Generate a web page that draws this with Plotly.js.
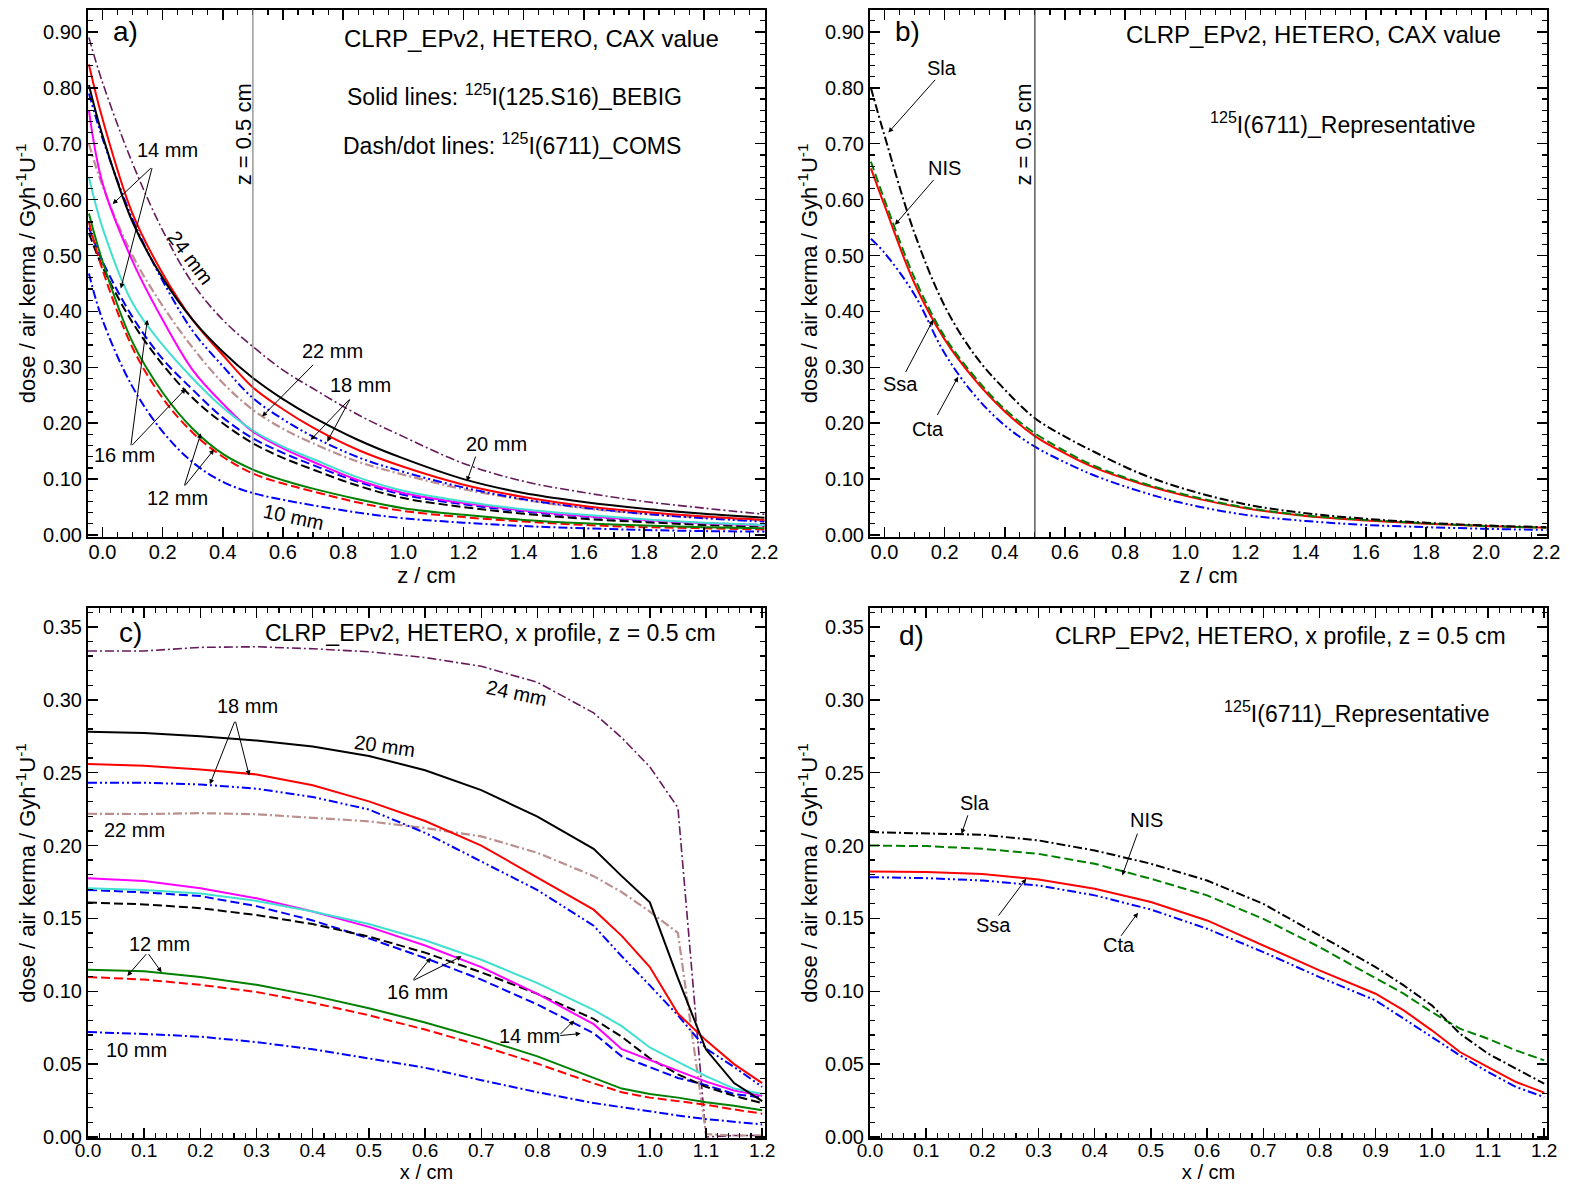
<!DOCTYPE html>
<html><head><meta charset="utf-8">
<script src="https://cdn.plot.ly/plotly-3.0.1.min.js"></script>
<style>html,body{margin:0;padding:0;background:#fff;}#chart{width:1569px;height:1187px;}</style>
</head><body><div id="chart"></div>
<script>
// ---------- panel a/b : CAX depth (z / cm) ----------
const zA = [-0.045, 0, 0.1, 0.2, 0.3, 0.4, 0.5, 0.6, 0.7, 0.85, 1.0, 1.2, 1.4, 1.6, 1.8, 2.0, 2.2];
const aBebig20 = [0.805, 0.715, 0.56, 0.46, 0.385, 0.328, 0.281, 0.243, 0.211, 0.170, 0.137, 0.100, 0.075, 0.059, 0.047, 0.038, 0.031];
const aBebig18 = [0.842, 0.745, 0.575, 0.468, 0.385, 0.322, 0.264, 0.225, 0.192, 0.152, 0.122, 0.090, 0.068, 0.052, 0.041, 0.033, 0.027];
const aBebig16 = [0.64, 0.55, 0.415, 0.34, 0.28, 0.228, 0.187, 0.158, 0.136, 0.103, 0.079, 0.060, 0.046, 0.036, 0.028, 0.022, 0.018];
const aBebig14 = [0.76, 0.63, 0.49, 0.385, 0.295, 0.235, 0.185, 0.155, 0.131, 0.098, 0.075, 0.057, 0.044, 0.034, 0.027, 0.021, 0.017];
const aBebig12 = [0.575, 0.49, 0.345, 0.255, 0.19, 0.145, 0.117, 0.098, 0.083, 0.064, 0.048, 0.036, 0.027, 0.021, 0.017, 0.014, 0.012];
const aComs24 = [0.89, 0.81, 0.665, 0.545, 0.45, 0.385, 0.337, 0.295, 0.262, 0.215, 0.176, 0.128, 0.096, 0.076, 0.060, 0.048, 0.037];
const aComs22 = [0.70, 0.625, 0.50, 0.41, 0.335, 0.272, 0.224, 0.19, 0.164, 0.131, 0.108, 0.082, 0.063, 0.048, 0.038, 0.031, 0.026];
const aComs18 = [0.79, 0.71, 0.565, 0.455, 0.365, 0.302, 0.245, 0.207, 0.176, 0.139, 0.113, 0.085, 0.064, 0.049, 0.038, 0.030, 0.024];
const aComs16 = [0.55, 0.49, 0.39, 0.315, 0.26, 0.21, 0.173, 0.147, 0.125, 0.095, 0.072, 0.055, 0.042, 0.033, 0.026, 0.021, 0.018];
const aComs14 = [0.54, 0.48, 0.38, 0.305, 0.245, 0.20, 0.164, 0.138, 0.117, 0.088, 0.066, 0.050, 0.038, 0.029, 0.023, 0.018, 0.015];
const aComs12 = [0.56, 0.475, 0.335, 0.245, 0.183, 0.14, 0.110, 0.092, 0.078, 0.058, 0.043, 0.032, 0.024, 0.018, 0.014, 0.012, 0.010];
const aComs10 = [0.468, 0.385, 0.265, 0.185, 0.13, 0.095, 0.075, 0.063, 0.053, 0.040, 0.030, 0.022, 0.016, 0.012, 0.009, 0.007, 0.006];

const bSla = [0.80, 0.715, 0.54, 0.41, 0.322, 0.26, 0.209, 0.176, 0.148, 0.110, 0.082, 0.055, 0.039, 0.029, 0.022, 0.017, 0.014];
const bNis = [0.668, 0.60, 0.46, 0.355, 0.283, 0.225, 0.182, 0.150, 0.123, 0.094, 0.072, 0.049, 0.035, 0.027, 0.021, 0.016, 0.013];
const bSsa = [0.656, 0.59, 0.45, 0.35, 0.278, 0.221, 0.177, 0.146, 0.120, 0.092, 0.070, 0.048, 0.034, 0.026, 0.020, 0.016, 0.013];
const bCta = [0.53, 0.505, 0.43, 0.325, 0.25, 0.196, 0.158, 0.130, 0.106, 0.078, 0.056, 0.036, 0.025, 0.018, 0.014, 0.011, 0.009];

// ---------- panel c/d : x profile at z = 0.5 cm ----------
const xC = [0, 0.1, 0.2, 0.3, 0.4, 0.5, 0.6, 0.7, 0.8, 0.9, 0.95, 1.0, 1.05, 1.1, 1.15, 1.2];
const cComs24 = [0.3335, 0.3335, 0.336, 0.3364, 0.335, 0.333, 0.329, 0.323, 0.312, 0.291, 0.274, 0.254, 0.226, 0.0, 0.001, 0.001];
const cBebig20 = [0.278, 0.2773, 0.275, 0.272, 0.268, 0.2615, 0.2517, 0.238, 0.2198, 0.1977, 0.179, 0.161, 0.109, 0.060, 0.037, 0.0246];
const cBebig18 = [0.256, 0.2547, 0.2522, 0.2488, 0.2414, 0.2303, 0.2168, 0.200, 0.178, 0.156, 0.138, 0.1166, 0.0847, 0.0663, 0.050, 0.037];
const cComs18 = [0.2431, 0.2431, 0.2419, 0.239, 0.2333, 0.2247, 0.2087, 0.189, 0.1694, 0.145, 0.124, 0.104, 0.0835, 0.0607, 0.048, 0.0344];
const cComs22 = [0.2218, 0.2216, 0.2222, 0.2215, 0.219, 0.2166, 0.212, 0.2063, 0.195, 0.179, 0.168, 0.1547, 0.14, 0.002, 0.001, 0.001];
const cBebig14 = [0.1776, 0.1756, 0.1707, 0.1638, 0.1547, 0.1442, 0.1314, 0.1166, 0.0982, 0.0774, 0.0602, 0.0528, 0.0454, 0.038, 0.0319, 0.0282];
const cBebig16 = [0.1707, 0.1695, 0.167, 0.162, 0.1547, 0.1461, 0.135, 0.1216, 0.1056, 0.0872, 0.0761, 0.0614, 0.0516, 0.0417, 0.0332, 0.0295];
const cComs16 = [0.1695, 0.1678, 0.1653, 0.1584, 0.1486, 0.1363, 0.1228, 0.108, 0.0909, 0.0712, 0.0553, 0.0479, 0.0405, 0.0356, 0.0295, 0.027];
const cComs14 = [0.1609, 0.1596, 0.157, 0.1523, 0.1461, 0.1375, 0.1265, 0.113, 0.0982, 0.081, 0.0688, 0.054, 0.043, 0.0344, 0.0282, 0.0233];
const cBebig12 = [0.1147, 0.1137, 0.1098, 0.1044, 0.097, 0.0884, 0.0786, 0.0675, 0.0553, 0.0405, 0.0332, 0.0295, 0.027, 0.0238, 0.0214, 0.0184];
const cComs12 = [0.1098, 0.108, 0.1044, 0.0995, 0.0921, 0.0835, 0.0737, 0.0626, 0.0503, 0.0368, 0.0307, 0.027, 0.0246, 0.0221, 0.0189, 0.016];
const cComs10 = [0.072, 0.0707, 0.0688, 0.0651, 0.0602, 0.054, 0.0475, 0.039, 0.0307, 0.0233, 0.0205, 0.0172, 0.0147, 0.0123, 0.0106, 0.0086];

const dSla = [0.2092, 0.2085, 0.2074, 0.2035, 0.1966, 0.1875, 0.176, 0.160, 0.1383, 0.1166, 0.104, 0.0903, 0.0709, 0.0572, 0.0469, 0.0366];
const dNis = [0.200, 0.1996, 0.1978, 0.1943, 0.1875, 0.1772, 0.1658, 0.1497, 0.1303, 0.1086, 0.0983, 0.0857, 0.0743, 0.0674, 0.0594, 0.0526];
const dSsa = [0.1822, 0.1818, 0.1804, 0.1767, 0.1703, 0.1612, 0.1486, 0.1315, 0.1143, 0.0983, 0.0869, 0.0732, 0.0583, 0.048, 0.0377, 0.0304];
const dCta = [0.1783, 0.1776, 0.176, 0.1726, 0.1658, 0.1561, 0.1429, 0.1269, 0.1097, 0.0937, 0.0812, 0.0686, 0.056, 0.0446, 0.0343, 0.0274];

// ---------- styles ----------
const FONT = 'Liberation Sans, Arial, Helvetica, sans-serif';
const C = {purple:'#661a5c', tan:'#bc8f8f', blue:'#0000ff', red:'#ff0000', green:'#008000', magenta:'#ff00ff', cyan:'#40e0d0', black:'#000000'};
const DASH = '9px,4px';
const DASHDOT = '9px,3px,2px,3px';
const DASHDOTDOT = '9px,3px,2px,3px,2px,3px';

function tr(x, y, color, dash, xa, ya, shape, width) {
  return {x: x, y: y, type: 'scatter', mode: 'lines', xaxis: xa, yaxis: ya, hoverinfo: 'skip',
    line: {color: color, dash: dash, width: width || 2, shape: shape}};
}
const traces = [];
// panel a
[[aComs24, C.purple, DASHDOT, 1.6], [aComs22, C.tan, DASHDOT, 2.2], [aComs18, C.blue, DASHDOTDOT, 2], [aComs16, C.blue, DASH, 2],
 [aComs14, C.black, DASH, 2], [aComs12, C.red, DASH, 2], [aComs10, C.blue, DASHDOT, 2],
 [aBebig12, C.green, 'solid', 2], [aBebig14, C.magenta, 'solid', 2], [aBebig16, C.cyan, 'solid', 2],
 [aBebig18, C.red, 'solid', 2], [aBebig20, C.black, 'solid', 2]].forEach(s => traces.push(tr(zA, s[0], s[1], s[2], 'x', 'y', 'spline', s[3])));
// panel b
[[bCta, C.blue, DASHDOTDOT], [bSsa, C.red, 'solid'], [bNis, C.green, DASH], [bSla, C.black, DASHDOT]]
  .forEach(s => traces.push(tr(zA, s[0], s[1], s[2], 'x2', 'y2', 'spline', 2)));
// panel c
[[cComs24, C.purple, DASHDOT, 1.6], [cComs22, C.tan, DASHDOT, 2.2], [cComs18, C.blue, DASHDOTDOT, 2], [cComs16, C.blue, DASH, 2],
 [cComs14, C.black, DASH, 2], [cComs12, C.red, DASH, 2], [cComs10, C.blue, DASHDOT, 2],
 [cBebig12, C.green, 'solid', 2], [cBebig14, C.magenta, 'solid', 2], [cBebig16, C.cyan, 'solid', 2],
 [cBebig18, C.red, 'solid', 2], [cBebig20, C.black, 'solid', 2]].forEach(s => traces.push(tr(xC, s[0], s[1], s[2], 'x3', 'y3', 'linear', s[3])));
// panel d
[[dCta, C.blue, DASHDOTDOT], [dSsa, C.red, 'solid'], [dNis, C.green, DASH], [dSla, C.black, DASHDOT]]
  .forEach(s => traces.push(tr(xC, s[0], s[1], s[2], 'x4', 'y4', 'linear', 2)));

function baseAxis(range, dtick, minor, fmt, domain, anchor, title, fsize, tsize) {
  return {range: range, domain: domain, anchor: anchor, dtick: dtick, tick0: 0, tickformat: fmt,
    ticks: 'inside', ticklen: 10, tickwidth: 1.5, tickcolor: '#000', mirror: 'allticks',
    showline: true, linewidth: 2, linecolor: '#000', showgrid: false, zeroline: false,
    minor: {dtick: minor, ticks: 'inside', ticklen: 5, tickwidth: 1.2, tickcolor: '#000', showgrid: false},
    tickfont: {family: FONT, size: fsize, color: '#000'},
    title: {text: title, font: {family: FONT, size: tsize, color: '#000'}, standoff: 0}};
}
function xAxis(range, dtick, minor, fmt, domain, anchor, title) {
  const a = baseAxis(range, dtick, minor, fmt, domain, anchor, title, 20, 22);
  a.ticklabelstandoff = -4;
  return a;
}
function xAxisLow(range, dtick, minor, fmt, domain, anchor, title) {
  const a = baseAxis(range, dtick, minor, fmt, domain, anchor, title, 19, 20);
  a.ticklabelstandoff = -6;
  return a;
}
function yAxis(range, dtick, minor, fmt, domain, anchor, title) {
  const a = baseAxis(range, dtick, minor, fmt, domain, anchor, title, 20, 22);
  a.title.standoff = 1;
  return a;
}
const YT = 'dose / air kerma / Gyh<sup>-1</sup>U<sup>-1</sup>';
const dxA = [88/1569, 765/1569], dxB = [870/1569, 1547/1569];
const dyTop = [1 - 537/1187, 1 - 9.6/1187], dyBot = [1 - 1138/1187, 1 - 608/1187];

function lab(xr, yr, x, y, text, size, opts) {
  return Object.assign({xref: xr, yref: yr, x: x, y: y, text: text, showarrow: false,
    font: {family: FONT, size: size || 20, color: '#000'}, xanchor: 'center', yanchor: 'middle'}, opts || {});
}
function arr(xr, yr, tx, ty, hx, hy) {
  return {xref: xr, yref: yr, axref: xr, ayref: yr, x: hx, y: hy, ax: tx, ay: ty, text: '',
    showarrow: true, arrowhead: 2, arrowsize: 1, arrowwidth: 1, arrowcolor: '#000'};
}

const annotations = [
  // panel a
  lab('x', 'y', 0.077, 0.90, 'a)', 28),
  lab('x', 'y', 1.427, 0.889, 'CLRP_EPv2, HETERO, CAX value', 24),
  lab('x', 'y', 1.37, 0.787, 'Solid lines: <sup>125</sup>I(125.S16)_BEBIG', 23),
  lab('x', 'y', 1.36, 0.70, 'Dash/dot lines: <sup>125</sup>I(6711)_COMS', 23),
  lab('x', 'y', 0.469, 0.716, 'z = 0.5 cm', 22, {textangle: -90}),
  lab('x', 'y', 0.217, 0.689, '14 mm'),
  arr('x', 'y', 0.166, 0.659, 0.034, 0.592), arr('x', 'y', 0.166, 0.659, 0.061, 0.441),
  lab('x', 'y', 0.294, 0.496, '24 mm', 20, {textangle: 53}),
  lab('x', 'y', 0.765, 0.329, '22 mm'),
  arr('x', 'y', 0.705, 0.307, 0.531, 0.212),
  lab('x', 'y', 0.859, 0.268, '18 mm'),
  arr('x', 'y', 0.825, 0.245, 0.692, 0.170), arr('x', 'y', 0.825, 0.245, 0.747, 0.167),
  lab('x', 'y', 1.311, 0.163, '20 mm'),
  arr('x', 'y', 1.242, 0.143, 1.211, 0.096),
  lab('x', 'y', 0.074, 0.143, '16 mm'),
  arr('x', 'y', 0.094, 0.158, 0.149, 0.385), arr('x', 'y', 0.094, 0.158, 0.277, 0.262),
  lab('x', 'y', 0.25, 0.066, '12 mm'),
  arr('x', 'y', 0.271, 0.086, 0.327, 0.182), arr('x', 'y', 0.271, 0.086, 0.371, 0.153),
  lab('x', 'y', 0.636, 0.032, '10 mm', 20, {textangle: 12}),
  // panel b
  lab('x2', 'y2', 0.078, 0.90, 'b)', 28),
  lab('x2', 'y2', 1.427, 0.896, 'CLRP_EPv2, HETERO, CAX value', 24),
  lab('x2', 'y2', 1.523, 0.737, '<sup>125</sup>I(6711)_Representative', 23),
  lab('x2', 'y2', 0.463, 0.716, 'z = 0.5 cm', 22, {textangle: -90}),
  lab('x2', 'y2', 0.192, 0.836, 'Sla'),
  arr('x2', 'y2', 0.173, 0.817, 0.013, 0.72),
  lab('x2', 'y2', 0.198, 0.657, 'NIS'),
  arr('x2', 'y2', 0.168, 0.638, 0.035, 0.555),
  lab('x2', 'y2', 0.052, 0.27, 'Ssa'),
  arr('x2', 'y2', 0.068, 0.289, 0.162, 0.385),
  lab('x2', 'y2', 0.144, 0.19, 'Cta'),
  arr('x2', 'y2', 0.173, 0.212, 0.245, 0.283),
  // panel c
  lab('x3', 'y3', 0.076, 0.346, 'c)', 28),
  lab('x3', 'y3', 0.717, 0.346, 'CLRP_EPv2, HETERO, x profile, z = 0.5 cm', 23),
  lab('x3', 'y3', 0.762, 0.3045, '24 mm', 20, {textangle: 12}),
  lab('x3', 'y3', 0.528, 0.268, '20 mm', 20, {textangle: 8}),
  lab('x3', 'y3', 0.283, 0.296, '18 mm'),
  arr('x3', 'y3', 0.262, 0.286, 0.217, 0.242), arr('x3', 'y3', 0.262, 0.286, 0.287, 0.248),
  lab('x3', 'y3', 0.082, 0.2105, '22 mm'),
  lab('x3', 'y3', 0.586, 0.0995, '16 mm'),
  arr('x3', 'y3', 0.577, 0.107, 0.61, 0.123), arr('x3', 'y3', 0.577, 0.107, 0.665, 0.124),
  lab('x3', 'y3', 0.786, 0.0695, '14 mm'),
  arr('x3', 'y3', 0.838, 0.0695, 0.865, 0.080), arr('x3', 'y3', 0.838, 0.0695, 0.877, 0.071),
  lab('x3', 'y3', 0.127, 0.1326, '12 mm'),
  arr('x3', 'y3', 0.106, 0.1265, 0.07, 0.1105), arr('x3', 'y3', 0.106, 0.1265, 0.131, 0.113),
  lab('x3', 'y3', 0.086, 0.0597, '10 mm'),
  // panel d
  lab('x4', 'y4', 0.073, 0.344, 'd)', 28),
  lab('x4', 'y4', 0.730, 0.344, 'CLRP_EPv2, HETERO, x profile, z = 0.5 cm', 23),
  lab('x4', 'y4', 0.867, 0.2917, '<sup>125</sup>I(6711)_Representative', 23),
  lab('x4', 'y4', 0.187, 0.2293, 'Sla'),
  arr('x4', 'y4', 0.175, 0.2218, 0.163, 0.208),
  lab('x4', 'y4', 0.493, 0.2172, 'NIS'),
  arr('x4', 'y4', 0.477, 0.2092, 0.449, 0.1795),
  lab('x4', 'y4', 0.219, 0.1452, 'Ssa'),
  arr('x4', 'y4', 0.227, 0.151, 0.278, 0.1772),
  lab('x4', 'y4', 0.4436, 0.1315, 'Cta'),
  arr('x4', 'y4', 0.445, 0.137, 0.477, 0.1539)
];

const layout = {
  width: 1569, height: 1187, margin: {l: 0, r: 0, t: 0, b: 0},
  paper_bgcolor: '#fff', plot_bgcolor: '#fff', showlegend: false,
  font: {family: FONT, color: '#000'},
  xaxis: xAxis([-0.048, 2.202], 0.2, 0.05, '.1f', dxA, 'y', 'z / cm'),
  yaxis: yAxis([-0.0036, 0.94], 0.1, 0.02, '.2f', dyTop, 'x', YT),
  xaxis2: xAxis([-0.048, 2.202], 0.2, 0.05, '.1f', dxB, 'y2', 'z / cm'),
  yaxis2: yAxis([-0.0036, 0.94], 0.1, 0.02, '.2f', dyTop, 'x2', YT),
  xaxis3: xAxisLow([0, 1.205], 0.1, 0.02, '.1f', dxA, 'y3', 'x / cm'),
  yaxis3: yAxis([-0.0007, 0.363], 0.05, 0.01, '.2f', dyBot, 'x3', YT),
  xaxis4: xAxisLow([0, 1.205], 0.1, 0.02, '.1f', dxB, 'y4', 'x / cm'),
  yaxis4: yAxis([-0.0007, 0.363], 0.05, 0.01, '.2f', dyBot, 'x4', YT),
  shapes: [
    {type: 'line', xref: 'x', yref: 'y domain', x0: 0.5, x1: 0.5, y0: 0, y1: 1, line: {color: '#808080', width: 1.2}},
    {type: 'line', xref: 'x2', yref: 'y2 domain', x0: 0.5, x1: 0.5, y0: 0, y1: 1, line: {color: '#333333', width: 1.2}}
  ],
  annotations: annotations
};
Plotly.newPlot('chart', traces, layout, {displayModeBar: false, staticPlot: true});
</script></body></html>
